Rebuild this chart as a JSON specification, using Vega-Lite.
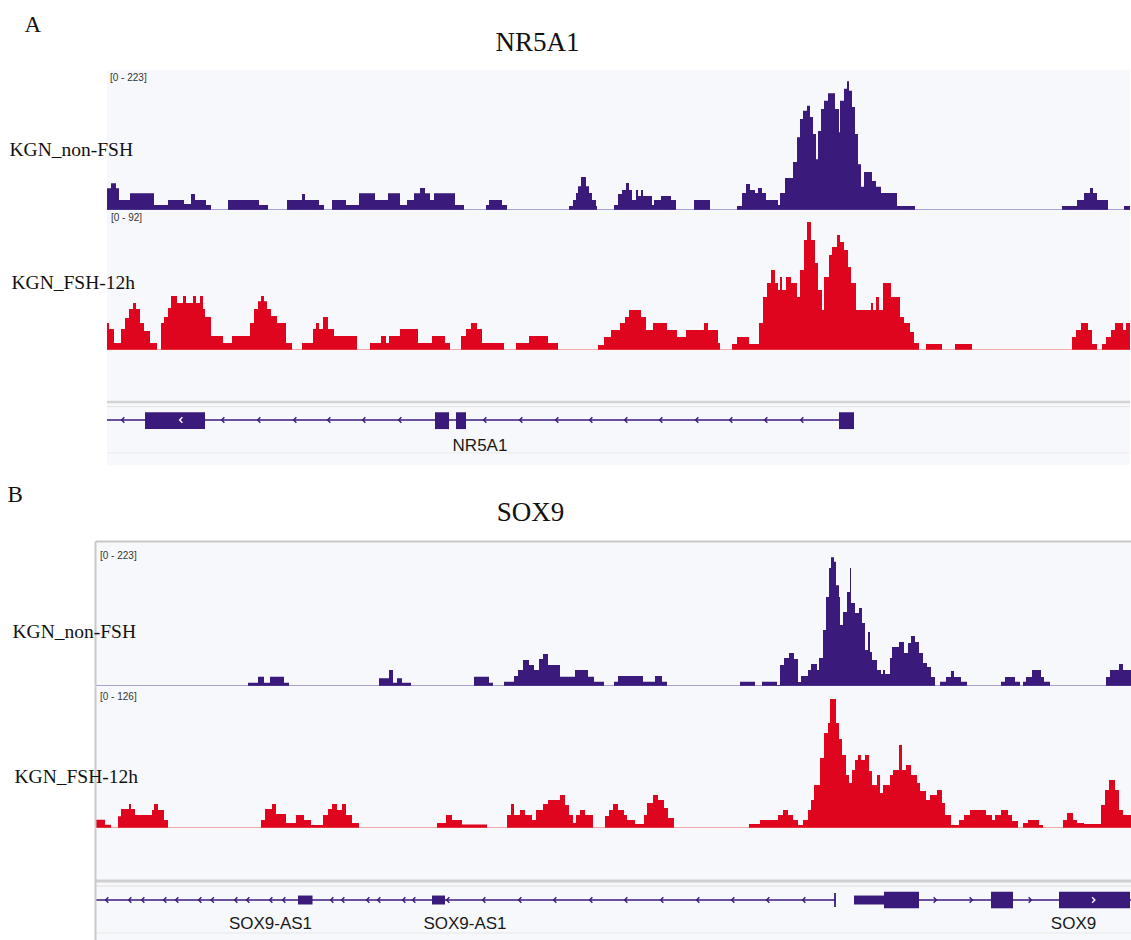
{
"$schema": "https://vega.github.io/schema/vega-lite/v6.json",
"background": "white",
"padding": {"left": 7, "top": 0, "right": 0, "bottom": 0},
"autosize": {"type": "pad"},
"spacing": 0,
"bounds": "flush",
"datasets": {
"A1": [{"pos":12,"v":34.6},{"pos":16,"v":42.5},{"pos":21,"v":34.6},{"pos":24,"v":16},{"pos":35,"v":26.6},{"pos":59,"v":8},{"pos":73,"v":16},{"pos":89,"v":9.6},{"pos":96,"v":25.5},{"pos":100,"v":16},{"pos":111,"v":8},{"pos":116,"v":0},{"pos":133,"v":16},{"pos":164,"v":8},{"pos":173,"v":0},{"pos":192,"v":16},{"pos":207,"v":25.5},{"pos":210,"v":16},{"pos":224,"v":8},{"pos":229,"v":0},{"pos":237,"v":16},{"pos":251,"v":8},{"pos":264,"v":26.6},{"pos":280,"v":16},{"pos":293,"v":26.6},{"pos":305,"v":8},{"pos":312,"v":16},{"pos":319,"v":26.6},{"pos":325,"v":35},{"pos":330,"v":26.6},{"pos":335,"v":16},{"pos":339,"v":26.6},{"pos":360,"v":8},{"pos":369,"v":0},{"pos":391,"v":8},{"pos":394,"v":16},{"pos":407,"v":8},{"pos":412,"v":0},{"pos":474,"v":6.4},{"pos":478,"v":16},{"pos":481,"v":27},{"pos":483,"v":38},{"pos":486,"v":52.6},{"pos":491,"v":38},{"pos":494,"v":27},{"pos":497,"v":16},{"pos":501,"v":6.4},{"pos":502,"v":0},{"pos":519,"v":8},{"pos":523,"v":25.5},{"pos":527,"v":32},{"pos":531,"v":43},{"pos":534,"v":32},{"pos":537,"v":16},{"pos":541,"v":32},{"pos":543,"v":22.3},{"pos":546,"v":32},{"pos":548,"v":22.3},{"pos":557,"v":8},{"pos":559,"v":16},{"pos":566,"v":22.3},{"pos":576,"v":16},{"pos":581,"v":0},{"pos":599,"v":16},{"pos":615,"v":0},{"pos":642,"v":6.4},{"pos":647,"v":27},{"pos":651,"v":41.4},{"pos":655,"v":32},{"pos":660,"v":27},{"pos":663,"v":35},{"pos":667,"v":27},{"pos":671,"v":16},{"pos":683,"v":8},{"pos":685,"v":27},{"pos":690,"v":51},{"pos":698,"v":76.5},{"pos":702,"v":116},{"pos":705,"v":145},{"pos":708,"v":158},{"pos":712,"v":166},{"pos":715,"v":148},{"pos":718,"v":121},{"pos":721,"v":81},{"pos":723,"v":126},{"pos":726,"v":161},{"pos":729,"v":174},{"pos":733,"v":186},{"pos":740,"v":161},{"pos":744,"v":124},{"pos":745,"v":174},{"pos":749,"v":193},{"pos":752,"v":205},{"pos":754,"v":190},{"pos":757,"v":164},{"pos":760,"v":121},{"pos":763,"v":73},{"pos":766,"v":37},{"pos":769,"v":60.5},{"pos":777,"v":46},{"pos":781,"v":37},{"pos":786,"v":27},{"pos":802,"v":6.4},{"pos":820,"v":0},{"pos":967,"v":6.4},{"pos":982,"v":16},{"pos":989,"v":27},{"pos":995,"v":35},{"pos":998,"v":27},{"pos":1002,"v":16},{"pos":1013,"v":0},{"pos":1029,"v":6.4},{"pos":1035,"v":0}],
"A2": [{"pos":12,"v":17.7},{"pos":14,"v":13.8},{"pos":19,"v":4.6},{"pos":26,"v":13.8},{"pos":30,"v":21},{"pos":34,"v":27},{"pos":38,"v":30.9},{"pos":41,"v":27},{"pos":45,"v":17.7},{"pos":49,"v":12.5},{"pos":55,"v":4.6},{"pos":62,"v":0},{"pos":66,"v":17.7},{"pos":69,"v":21.7},{"pos":73,"v":27.6},{"pos":76,"v":35.5},{"pos":82,"v":30.9},{"pos":88,"v":35.5},{"pos":91,"v":30.9},{"pos":98,"v":35.5},{"pos":101,"v":30.9},{"pos":105,"v":35.5},{"pos":108,"v":27},{"pos":110,"v":21.7},{"pos":116,"v":9.2},{"pos":128,"v":4.6},{"pos":137,"v":9.2},{"pos":155,"v":17.7},{"pos":159,"v":27},{"pos":163,"v":32},{"pos":166,"v":35.5},{"pos":169,"v":32},{"pos":172,"v":27},{"pos":176,"v":22.3},{"pos":182,"v":17.7},{"pos":191,"v":4.6},{"pos":197,"v":0},{"pos":207,"v":4.6},{"pos":218,"v":13.8},{"pos":221,"v":17.7},{"pos":224,"v":13.8},{"pos":228,"v":21.7},{"pos":233,"v":13.8},{"pos":239,"v":9.2},{"pos":262,"v":0},{"pos":275,"v":4.6},{"pos":286,"v":9.2},{"pos":291,"v":4.6},{"pos":294,"v":9.2},{"pos":305,"v":13.8},{"pos":323,"v":4.6},{"pos":337,"v":9.2},{"pos":350,"v":4.6},{"pos":355,"v":0},{"pos":366,"v":9.2},{"pos":371,"v":13.8},{"pos":376,"v":17.7},{"pos":382,"v":13.8},{"pos":387,"v":4.6},{"pos":409,"v":0},{"pos":421,"v":4.6},{"pos":434,"v":9.2},{"pos":453,"v":4.6},{"pos":463,"v":0},{"pos":503,"v":3.3},{"pos":509,"v":8.5},{"pos":516,"v":13.1},{"pos":525,"v":17.7},{"pos":530,"v":21.7},{"pos":534,"v":26.3},{"pos":546,"v":21.7},{"pos":551,"v":13.1},{"pos":558,"v":17.7},{"pos":572,"v":13.1},{"pos":582,"v":8.5},{"pos":591,"v":13.1},{"pos":609,"v":17.7},{"pos":613,"v":13.1},{"pos":623,"v":4.6},{"pos":625,"v":0},{"pos":637,"v":3.9},{"pos":642,"v":8.5},{"pos":654,"v":3.9},{"pos":664,"v":17.7},{"pos":668,"v":34.8},{"pos":672,"v":44},{"pos":676,"v":52.6},{"pos":680,"v":44},{"pos":683,"v":39.4},{"pos":685,"v":48},{"pos":687,"v":39.4},{"pos":691,"v":48},{"pos":696,"v":44},{"pos":702,"v":34.8},{"pos":705,"v":52.6},{"pos":709,"v":72.3},{"pos":712,"v":84.1},{"pos":716,"v":72.3},{"pos":720,"v":57.2},{"pos":723,"v":39.4},{"pos":727,"v":26.3},{"pos":729,"v":48},{"pos":734,"v":62.4},{"pos":737,"v":67.7},{"pos":742,"v":75.6},{"pos":745,"v":71},{"pos":749,"v":65.7},{"pos":753,"v":54.5},{"pos":756,"v":44},{"pos":761,"v":26.3},{"pos":776,"v":30.9},{"pos":778,"v":26.3},{"pos":781,"v":34.8},{"pos":784,"v":26.3},{"pos":788,"v":44},{"pos":796,"v":34.8},{"pos":805,"v":21.7},{"pos":809,"v":17.7},{"pos":815,"v":11.8},{"pos":819,"v":4.6},{"pos":824,"v":0},{"pos":831,"v":3.9},{"pos":847,"v":0},{"pos":860,"v":3.9},{"pos":877,"v":0},{"pos":977,"v":8.5},{"pos":981,"v":13.1},{"pos":986,"v":17.7},{"pos":993,"v":13.1},{"pos":997,"v":3.9},{"pos":1002,"v":0},{"pos":1007,"v":3.9},{"pos":1011,"v":8.5},{"pos":1016,"v":13.1},{"pos":1020,"v":17.7},{"pos":1028,"v":13.1},{"pos":1031,"v":17.7},{"pos":1035,"v":17.7}],
"B1": [{"pos":0,"v":0},{"pos":153,"v":5.1},{"pos":163,"v":14.3},{"pos":169,"v":5.1},{"pos":175,"v":14.3},{"pos":189,"v":5.1},{"pos":194,"v":0},{"pos":284,"v":11.8},{"pos":294,"v":24.6},{"pos":298,"v":5.1},{"pos":302,"v":11.8},{"pos":307,"v":5.1},{"pos":316,"v":0},{"pos":379,"v":14.3},{"pos":394,"v":5.1},{"pos":398,"v":0},{"pos":409,"v":6.6},{"pos":419,"v":15.4},{"pos":423,"v":24.6},{"pos":428,"v":40},{"pos":434,"v":32.3},{"pos":439,"v":24.6},{"pos":444,"v":41.5},{"pos":448,"v":49.2},{"pos":453,"v":32.3},{"pos":465,"v":14.3},{"pos":480,"v":24.6},{"pos":493,"v":14.3},{"pos":499,"v":6.6},{"pos":509,"v":0},{"pos":519,"v":6.6},{"pos":523,"v":15.4},{"pos":548,"v":6.6},{"pos":560,"v":15.4},{"pos":567,"v":6.6},{"pos":572,"v":0},{"pos":645,"v":6.6},{"pos":660,"v":0},{"pos":667,"v":6.6},{"pos":682,"v":1.5},{"pos":685,"v":32.3},{"pos":689,"v":43},{"pos":694,"v":50.8},{"pos":699,"v":41.5},{"pos":703,"v":6.2},{"pos":706,"v":15.4},{"pos":713,"v":24.6},{"pos":716,"v":33.8},{"pos":722,"v":24.6},{"pos":724,"v":43},{"pos":728,"v":86},{"pos":731,"v":137},{"pos":734,"v":181.5},{"pos":736,"v":198},{"pos":739,"v":191},{"pos":741,"v":155},{"pos":744,"v":137},{"pos":745,"v":93.8},{"pos":748,"v":113.8},{"pos":752,"v":144.6},{"pos":755,"v":181.5},{"pos":756,"v":127.7},{"pos":760,"v":112.3},{"pos":764,"v":120},{"pos":767,"v":96.9},{"pos":770,"v":55.4},{"pos":773,"v":83},{"pos":775,"v":52.3},{"pos":777,"v":40},{"pos":782,"v":24.6},{"pos":786,"v":18.5},{"pos":788,"v":24.6},{"pos":790,"v":18.5},{"pos":795,"v":43},{"pos":797,"v":60},{"pos":804,"v":67.7},{"pos":809,"v":50.8},{"pos":813,"v":66.1},{"pos":816,"v":76.9},{"pos":820,"v":67.7},{"pos":824,"v":50.8},{"pos":828,"v":35.4},{"pos":832,"v":29.2},{"pos":836,"v":13.8},{"pos":840,"v":0},{"pos":845,"v":6.6},{"pos":851,"v":13.8},{"pos":856,"v":23},{"pos":859,"v":13.8},{"pos":866,"v":6.6},{"pos":872,"v":0},{"pos":906,"v":6.6},{"pos":910,"v":13.8},{"pos":920,"v":6.6},{"pos":925,"v":0},{"pos":928,"v":6.6},{"pos":931,"v":13.8},{"pos":937,"v":24.6},{"pos":946,"v":13.8},{"pos":949,"v":6.6},{"pos":955,"v":0},{"pos":1011,"v":13.8},{"pos":1015,"v":24.6},{"pos":1024,"v":33.8},{"pos":1028,"v":24.6},{"pos":1036,"v":24.6}],
"B2": [{"pos":0,"v":7.4},{"pos":10,"v":2.9},{"pos":16,"v":0},{"pos":23,"v":10.4},{"pos":26,"v":16.9},{"pos":34,"v":21.3},{"pos":36,"v":16.9},{"pos":40,"v":11.5},{"pos":57,"v":16},{"pos":59,"v":21.3},{"pos":63,"v":16},{"pos":69,"v":7.1},{"pos":73,"v":0},{"pos":166,"v":7.1},{"pos":170,"v":16.9},{"pos":177,"v":21.3},{"pos":181,"v":12.4},{"pos":191,"v":4.4},{"pos":201,"v":11.5},{"pos":209,"v":7.1},{"pos":216,"v":2.7},{"pos":228,"v":11.5},{"pos":233,"v":16.9},{"pos":237,"v":21.3},{"pos":242,"v":16},{"pos":247,"v":21.3},{"pos":251,"v":11.5},{"pos":257,"v":4.4},{"pos":264,"v":0},{"pos":342,"v":4.4},{"pos":351,"v":11.5},{"pos":357,"v":7.1},{"pos":367,"v":3.1},{"pos":392,"v":0},{"pos":412,"v":11.5},{"pos":416,"v":21.3},{"pos":419,"v":11.5},{"pos":425,"v":16},{"pos":430,"v":11.5},{"pos":437,"v":7.1},{"pos":441,"v":16},{"pos":448,"v":21.3},{"pos":453,"v":24.8},{"pos":465,"v":29.3},{"pos":470,"v":20.4},{"pos":474,"v":11.5},{"pos":478,"v":4.4},{"pos":481,"v":11.5},{"pos":485,"v":16},{"pos":490,"v":11.5},{"pos":498,"v":0},{"pos":510,"v":10.6},{"pos":514,"v":16},{"pos":518,"v":21.3},{"pos":523,"v":16},{"pos":529,"v":11.5},{"pos":532,"v":7.1},{"pos":540,"v":3.5},{"pos":549,"v":11.5},{"pos":552,"v":22.2},{"pos":558,"v":29.3},{"pos":563,"v":24.8},{"pos":569,"v":17.7},{"pos":573,"v":8.9},{"pos":579,"v":0},{"pos":654,"v":3.5},{"pos":665,"v":7.1},{"pos":683,"v":11.5},{"pos":688,"v":16},{"pos":693,"v":11.5},{"pos":698,"v":7.1},{"pos":703,"v":2.7},{"pos":708,"v":7.1},{"pos":713,"v":16},{"pos":716,"v":24.8},{"pos":719,"v":38.1},{"pos":725,"v":62.1},{"pos":729,"v":84.3},{"pos":733,"v":93.1},{"pos":735,"v":114.4},{"pos":741,"v":93.1},{"pos":744,"v":78.9},{"pos":747,"v":64.8},{"pos":751,"v":47},{"pos":754,"v":39.9},{"pos":757,"v":51.4},{"pos":760,"v":60.3},{"pos":763,"v":64.8},{"pos":766,"v":60.3},{"pos":770,"v":64.8},{"pos":774,"v":50.6},{"pos":777,"v":38.1},{"pos":782,"v":47},{"pos":785,"v":31},{"pos":788,"v":38.1},{"pos":795,"v":47},{"pos":798,"v":51.4},{"pos":804,"v":73.6},{"pos":807,"v":51.4},{"pos":811,"v":55.9},{"pos":816,"v":47},{"pos":822,"v":39.9},{"pos":825,"v":32.8},{"pos":831,"v":24.8},{"pos":835,"v":29.3},{"pos":842,"v":33.7},{"pos":847,"v":22.2},{"pos":850,"v":11.5},{"pos":856,"v":2.7},{"pos":864,"v":7.1},{"pos":869,"v":11.5},{"pos":875,"v":16},{"pos":891,"v":11.5},{"pos":897,"v":7.1},{"pos":900,"v":11.5},{"pos":906,"v":16},{"pos":913,"v":11.5},{"pos":917,"v":6.2},{"pos":923,"v":0},{"pos":928,"v":4.4},{"pos":933,"v":7.1},{"pos":944,"v":2.7},{"pos":948,"v":0},{"pos":968,"v":7.1},{"pos":972,"v":13.3},{"pos":978,"v":7.1},{"pos":982,"v":4.4},{"pos":989,"v":3.5},{"pos":1006,"v":20.4},{"pos":1010,"v":33.7},{"pos":1014,"v":42.6},{"pos":1020,"v":33.7},{"pos":1024,"v":16},{"pos":1028,"v":11.5},{"pos":1036,"v":11.5}],
"geneA": [{"kind":"intron","start":12,"end":744},{"kind":"exon","start":50,"end":110},{"kind":"exon","start":340,"end":354},{"kind":"exon","start":361,"end":371},{"kind":"exon","start":744,"end":759},{"kind":"left","pos":28},{"kind":"left","pos":128},{"kind":"left","pos":164},{"kind":"left","pos":200},{"kind":"left","pos":234},{"kind":"left","pos":269},{"kind":"left","pos":305},{"kind":"left","pos":390},{"kind":"left","pos":426},{"kind":"left","pos":462},{"kind":"left","pos":496},{"kind":"left","pos":531},{"kind":"left","pos":566},{"kind":"left","pos":602},{"kind":"left","pos":636},{"kind":"left","pos":671},{"kind":"left","pos":707},{"kind":"innerLeft","pos":86},{"kind":"label","pos":385,"name":"NR5A1"}],
"geneB": [{"kind":"intron","start":0,"end":740},{"kind":"intron","start":759,"end":1036},{"kind":"tick","pos":740},{"kind":"utr","start":203,"end":217.5},{"kind":"utr","start":337,"end":350},{"kind":"utr","start":759,"end":789},{"kind":"exon","start":789,"end":824},{"kind":"exon","start":896,"end":918},{"kind":"exon","start":964,"end":1035},{"kind":"left","pos":12},{"kind":"left","pos":35},{"kind":"left","pos":48},{"kind":"left","pos":70},{"kind":"left","pos":82},{"kind":"left","pos":105},{"kind":"left","pos":117.5},{"kind":"left","pos":141},{"kind":"left","pos":153},{"kind":"left","pos":176},{"kind":"left","pos":189},{"kind":"left","pos":237},{"kind":"left","pos":248},{"kind":"left","pos":273},{"kind":"left","pos":284},{"kind":"left","pos":309},{"kind":"left","pos":319},{"kind":"left","pos":353},{"kind":"left","pos":389},{"kind":"left","pos":425},{"kind":"left","pos":460},{"kind":"left","pos":496},{"kind":"left","pos":531},{"kind":"left","pos":567},{"kind":"left","pos":603},{"kind":"left","pos":638},{"kind":"left","pos":673},{"kind":"left","pos":709},{"kind":"right","pos":840},{"kind":"right","pos":876},{"kind":"right","pos":935},{"kind":"innerRight","pos":998.5},{"kind":"label","pos":175.5,"name":"SOX9-AS1"},{"kind":"label","pos":370,"name":"SOX9-AS1"},{"kind":"label","pos":978.5,"name":"SOX9"}]
},
"vconcat": [
{
 "width": 1036, "height": 70,
 "data": {"values": [{}]},
 "mark": {"type": "text"},
 "encoding": {
  "text": {"value": ""},
  "x": {"datum": 0, "type": "quantitative", "scale": {"domain": [0, 1036], "nice": false, "zero": false},
        "axis": {"orient": "bottom", "title": "NR5A1", "titleX": 442, "titleY": -20, "titleAlign": "center", "titleBaseline": "alphabetic", "titleAngle": 0, "titleFontSize": 27, "zindex": 2}},
  "y": {"datum": 0, "type": "quantitative", "scale": {"domain": [0, 1], "nice": false},
        "axis": {"title": "A", "titleX": -71, "titleY": 31, "titleAngle": 0, "titleAlign": "left", "titleBaseline": "alphabetic", "titleFontSize": 23, "zindex": 2}}
 }
},
{
 "width": 1036, "height": 140,
 "layer": [
  {"data": {"values": [{}]}, "mark": {"type": "rect", "color": "#f7f8fc"},
   "encoding": {"x": {"datum": 12, "type": "quantitative", "scale": {"domain": [0, 1036], "nice": false, "zero": false}, "axis": {"title": null, "zindex": 2}}, "x2": {"datum": 1035},
                "y": {"datum": 0, "type": "quantitative", "scale": {"domain": [0, 223], "nice": false},
                      "axis": {"title": "KGN_non-FSH", "titleX": -86, "titleY": 85, "titleAngle": 0, "titleAlign": "left", "titleBaseline": "alphabetic", "titleFontSize": 19.5, "zindex": 2}},
                "y2": {"datum": 223}}},
  {"data": {"name": "A1"}, "mark": {"type": "area", "interpolate": "step-after", "color": "#3a1a7b", "opacity": 1},
   "encoding": {"x": {"field": "pos", "type": "quantitative", "scale": {"domain": [0, 1036], "nice": false, "zero": false}},
                "y": {"field": "v", "type": "quantitative", "scale": {"domain": [0, 223], "nice": false}}}},
  {"data": {"values": [{}]}, "mark": {"type": "rule", "color": "#5d4aa0", "strokeWidth": 1.2},
   "encoding": {"x": {"datum": 12, "type": "quantitative", "scale": {"domain": [0, 1036], "nice": false, "zero": false}}, "x2": {"datum": 1035},
                "y": {"datum": 0, "type": "quantitative", "scale": {"domain": [0, 223], "nice": false}}}},
  {"data": {"values": [{}]}, "mark": {"type": "text", "align": "left", "baseline": "middle", "dy": 8, "font": "Liberation Sans", "fontSize": 10, "color": "#333333"},
   "encoding": {"x": {"datum": 15, "type": "quantitative", "scale": {"domain": [0, 1036], "nice": false, "zero": false}},
                "y": {"datum": 223, "type": "quantitative", "scale": {"domain": [0, 223], "nice": false}},
                "text": {"value": "[0 - 223]"}}}
 ]
},
{
 "width": 1036, "height": 140,
 "layer": [
  {"data": {"values": [{}]}, "mark": {"type": "rect", "color": "#f7f8fc"},
   "encoding": {"x": {"datum": 12, "type": "quantitative", "scale": {"domain": [0, 1036], "nice": false, "zero": false}, "axis": {"title": null, "zindex": 2}}, "x2": {"datum": 1035},
                "y": {"datum": 0, "type": "quantitative", "scale": {"domain": [0, 92], "nice": false},
                      "axis": {"title": "KGN_FSH-12h", "titleX": -84, "titleY": 78, "titleAngle": 0, "titleAlign": "left", "titleBaseline": "alphabetic", "titleFontSize": 19.5, "zindex": 2}},
                "y2": {"datum": 92}}},
  {"data": {"name": "A2"}, "mark": {"type": "area", "interpolate": "step-after", "color": "#e0051f", "opacity": 1},
   "encoding": {"x": {"field": "pos", "type": "quantitative", "scale": {"domain": [0, 1036], "nice": false, "zero": false}},
                "y": {"field": "v", "type": "quantitative", "scale": {"domain": [0, 92], "nice": false}}}},
  {"data": {"values": [{}]}, "mark": {"type": "rule", "color": "#ef5a5a", "strokeWidth": 1.2},
   "encoding": {"x": {"datum": 12, "type": "quantitative", "scale": {"domain": [0, 1036], "nice": false, "zero": false}}, "x2": {"datum": 1035},
                "y": {"datum": 0, "type": "quantitative", "scale": {"domain": [0, 92], "nice": false}}}},
  {"data": {"values": [{}]}, "mark": {"type": "text", "align": "left", "baseline": "middle", "dy": 8, "font": "Liberation Sans", "fontSize": 10, "color": "#333333"},
   "encoding": {"x": {"datum": 16, "type": "quantitative", "scale": {"domain": [0, 1036], "nice": false, "zero": false}},
                "y": {"datum": 92, "type": "quantitative", "scale": {"domain": [0, 92], "nice": false}},
                "text": {"value": "[0 - 92]"}}}
 ]
},
{
 "width": 1036, "height": 191,
 "layer": [
  {"data": {"values": [{}]}, "mark": {"type": "rect", "color": "#f7f8fc"},
   "encoding": {"x": {"datum": 12, "type": "quantitative", "scale": {"domain": [0, 1036], "nice": false, "zero": false},
                      "axis": {"orient": "bottom", "title": "SOX9", "titleX": 435, "titleY": -21, "titleAlign": "center", "titleBaseline": "alphabetic", "titleAngle": 0, "titleFontSize": 27, "zindex": 2}},
                "x2": {"datum": 1035},
                "y": {"datum": 0.398, "type": "quantitative", "scale": {"domain": [0, 1], "nice": false},
                      "axis": {"title": "B", "titleX": -88, "titleY": 151, "titleAngle": 0, "titleAlign": "left", "titleBaseline": "alphabetic", "titleFontSize": 23, "zindex": 2}},
                "y2": {"datum": 1}}},
  {"data": {"values": [{}]}, "mark": {"type": "rule", "color": "#d3d3d3", "strokeWidth": 2.5},
   "encoding": {"x": {"datum": 12, "type": "quantitative", "scale": {"domain": [0, 1036], "nice": false, "zero": false}}, "x2": {"datum": 1035},
                "y": {"datum": 0.728, "type": "quantitative", "scale": {"domain": [0, 1], "nice": false}}}},
  {"data": {"values": [{}]}, "mark": {"type": "rule", "color": "#e3e3e3", "strokeWidth": 1},
   "encoding": {"x": {"datum": 12, "type": "quantitative", "scale": {"domain": [0, 1036], "nice": false, "zero": false}}, "x2": {"datum": 1035},
                "y": {"datum": 0.704, "type": "quantitative", "scale": {"domain": [0, 1], "nice": false}}}},
  {"data": {"values": [{}]}, "mark": {"type": "rule", "color": "#ebebeb", "strokeWidth": 1},
   "encoding": {"x": {"datum": 12, "type": "quantitative", "scale": {"domain": [0, 1036], "nice": false, "zero": false}}, "x2": {"datum": 1035},
                "y": {"datum": 0.461, "type": "quantitative", "scale": {"domain": [0, 1], "nice": false}}}},
  {"data": {"name": "geneA"}, "transform": [{"filter": "datum.kind === 'intron'"}], "mark": {"type": "rule", "color": "#3a1a7b", "strokeWidth": 1.5},
   "encoding": {"x": {"field": "start", "type": "quantitative", "scale": {"domain": [0, 1036], "nice": false, "zero": false}}, "x2": {"field": "end"},
                "y": {"datum": 0.634, "type": "quantitative", "scale": {"domain": [0, 1], "nice": false}}}},
  {"data": {"name": "geneA"}, "transform": [{"filter": "datum.kind === 'exon'"}], "mark": {"type": "rect", "color": "#3a1a7b"},
   "encoding": {"x": {"field": "start", "type": "quantitative", "scale": {"domain": [0, 1036], "nice": false, "zero": false}}, "x2": {"field": "end"},
                "y": {"datum": 0.586, "type": "quantitative", "scale": {"domain": [0, 1], "nice": false}}, "y2": {"datum": 0.674}}},
  {"data": {"name": "geneA"}, "transform": [{"filter": "datum.kind === 'left'"}], "mark": {"type": "point", "shape": "M0.5,-1L-0.5,0L0.5,1", "filled": false, "color": "#3a1a7b", "strokeWidth": 1.4, "size": 30, "opacity": 1},
   "encoding": {"x": {"field": "pos", "type": "quantitative", "scale": {"domain": [0, 1036], "nice": false, "zero": false}},
                "y": {"datum": 0.634, "type": "quantitative", "scale": {"domain": [0, 1], "nice": false}}}},
  {"data": {"name": "geneA"}, "transform": [{"filter": "datum.kind === 'innerLeft'"}], "mark": {"type": "point", "shape": "M0.5,-1L-0.5,0L0.5,1", "filled": false, "color": "#ffffff", "strokeWidth": 1.4, "size": 30, "opacity": 1},
   "encoding": {"x": {"field": "pos", "type": "quantitative", "scale": {"domain": [0, 1036], "nice": false, "zero": false}},
                "y": {"datum": 0.634, "type": "quantitative", "scale": {"domain": [0, 1], "nice": false}}}},
  {"data": {"name": "geneA"}, "transform": [{"filter": "datum.kind === 'label'"}], "mark": {"type": "text", "align": "center", "baseline": "alphabetic", "font": "Liberation Sans", "fontSize": 17, "color": "#1a1a1a"},
   "encoding": {"x": {"field": "pos", "type": "quantitative", "scale": {"domain": [0, 1036], "nice": false, "zero": false}},
                "y": {"datum": 0.473, "type": "quantitative", "scale": {"domain": [0, 1], "nice": false}},
                "text": {"field": "name"}}}
 ]
},
{
 "width": 1036, "height": 145,
 "layer": [
  {"data": {"values": [{}]}, "mark": {"type": "rect", "color": "#f7f8fc"},
   "encoding": {"x": {"datum": 0, "type": "quantitative", "scale": {"domain": [0, 1036], "nice": false, "zero": false},
                      "axis": {"orient": "top", "title": null, "domain": true, "domainColor": "#c8c8c8", "domainWidth": 2, "zindex": 2}},
                "x2": {"datum": 1036},
                "y": {"datum": 0, "type": "quantitative", "scale": {"domain": [0, 223], "nice": false},
                      "axis": {"title": "KGN_non-FSH", "titleX": -83, "titleY": 96, "titleAngle": 0, "titleAlign": "left", "titleBaseline": "alphabetic", "titleFontSize": 19.5, "domain": true, "domainColor": "#c8c8c8", "domainWidth": 2, "zindex": 2}},
                "y2": {"datum": 223}}},
  {"data": {"name": "B1"}, "mark": {"type": "area", "interpolate": "step-after", "color": "#3a1a7b", "opacity": 1},
   "encoding": {"x": {"field": "pos", "type": "quantitative", "scale": {"domain": [0, 1036], "nice": false, "zero": false}},
                "y": {"field": "v", "type": "quantitative", "scale": {"domain": [0, 223], "nice": false}}}},
  {"data": {"values": [{}]}, "mark": {"type": "rule", "color": "#5d4aa0", "strokeWidth": 1.2},
   "encoding": {"x": {"datum": 0, "type": "quantitative", "scale": {"domain": [0, 1036], "nice": false, "zero": false}}, "x2": {"datum": 1036},
                "y": {"datum": 0, "type": "quantitative", "scale": {"domain": [0, 223], "nice": false}}}},
  {"data": {"values": [{}]}, "mark": {"type": "text", "align": "left", "baseline": "middle", "dy": 15, "font": "Liberation Sans", "fontSize": 10, "color": "#333333"},
   "encoding": {"x": {"datum": 5, "type": "quantitative", "scale": {"domain": [0, 1036], "nice": false, "zero": false}},
                "y": {"datum": 223, "type": "quantitative", "scale": {"domain": [0, 223], "nice": false}},
                "text": {"value": "[0 - 223]"}}}
 ]
},
{
 "width": 1036, "height": 142,
 "layer": [
  {"data": {"values": [{}]}, "mark": {"type": "rect", "color": "#f7f8fc"},
   "encoding": {"x": {"datum": 0, "type": "quantitative", "scale": {"domain": [0, 1036], "nice": false, "zero": false}, "axis": {"title": null, "zindex": 2}},
                "x2": {"datum": 1036},
                "y": {"datum": 0, "type": "quantitative", "scale": {"domain": [0, 126], "nice": false},
                      "axis": {"title": "KGN_FSH-12h", "titleX": -81, "titleY": 96, "titleAngle": 0, "titleAlign": "left", "titleBaseline": "alphabetic", "titleFontSize": 19.5, "domain": true, "domainColor": "#c8c8c8", "domainWidth": 2, "zindex": 2}},
                "y2": {"datum": 126}}},
  {"data": {"name": "B2"}, "mark": {"type": "area", "interpolate": "step-after", "color": "#e0051f", "opacity": 1},
   "encoding": {"x": {"field": "pos", "type": "quantitative", "scale": {"domain": [0, 1036], "nice": false, "zero": false}},
                "y": {"field": "v", "type": "quantitative", "scale": {"domain": [0, 126], "nice": false}}}},
  {"data": {"values": [{}]}, "mark": {"type": "rule", "color": "#ef5a5a", "strokeWidth": 1.2},
   "encoding": {"x": {"datum": 0, "type": "quantitative", "scale": {"domain": [0, 1036], "nice": false, "zero": false}}, "x2": {"datum": 1036},
                "y": {"datum": 0, "type": "quantitative", "scale": {"domain": [0, 126], "nice": false}}}},
  {"data": {"values": [{}]}, "mark": {"type": "text", "align": "left", "baseline": "middle", "dy": 11, "font": "Liberation Sans", "fontSize": 10, "color": "#333333"},
   "encoding": {"x": {"datum": 5, "type": "quantitative", "scale": {"domain": [0, 1036], "nice": false, "zero": false}},
                "y": {"datum": 126, "type": "quantitative", "scale": {"domain": [0, 126], "nice": false}},
                "text": {"value": "[0 - 126]"}}}
 ]
},
{
 "width": 1036, "height": 112,
 "layer": [
  {"data": {"values": [{}]}, "mark": {"type": "rect", "color": "#f7f8fc"},
   "encoding": {"x": {"datum": 0, "type": "quantitative", "scale": {"domain": [0, 1036], "nice": false, "zero": false}, "axis": {"title": null, "zindex": 2}},
                "x2": {"datum": 1036},
                "y": {"datum": 0, "type": "quantitative", "scale": {"domain": [0, 1], "nice": false},
                      "axis": {"title": null, "domain": true, "domainColor": "#c8c8c8", "domainWidth": 2, "zindex": 2}},
                "y2": {"datum": 1}}},
  {"data": {"values": [{}]}, "mark": {"type": "rule", "color": "#cfcfcf", "strokeWidth": 3},
   "encoding": {"x": {"datum": 0, "type": "quantitative", "scale": {"domain": [0, 1036], "nice": false, "zero": false}}, "x2": {"datum": 1036},
                "y": {"datum": 0.527, "type": "quantitative", "scale": {"domain": [0, 1], "nice": false}}}},
  {"data": {"values": [{}]}, "mark": {"type": "rule", "color": "#e0e0e0", "strokeWidth": 1},
   "encoding": {"x": {"datum": 0, "type": "quantitative", "scale": {"domain": [0, 1036], "nice": false, "zero": false}}, "x2": {"datum": 1036},
                "y": {"datum": 0.482, "type": "quantitative", "scale": {"domain": [0, 1], "nice": false}}}},
  {"data": {"values": [{}]}, "mark": {"type": "rule", "color": "#e8e8e8", "strokeWidth": 1},
   "encoding": {"x": {"datum": 0, "type": "quantitative", "scale": {"domain": [0, 1036], "nice": false, "zero": false}}, "x2": {"datum": 1036},
                "y": {"datum": 0.0625, "type": "quantitative", "scale": {"domain": [0, 1], "nice": false}}}},
  {"data": {"name": "geneB"}, "transform": [{"filter": "datum.kind === 'intron'"}], "mark": {"type": "rule", "color": "#3a1a7b", "strokeWidth": 1.5},
   "encoding": {"x": {"field": "start", "type": "quantitative", "scale": {"domain": [0, 1036], "nice": false, "zero": false}}, "x2": {"field": "end"},
                "y": {"datum": 0.357, "type": "quantitative", "scale": {"domain": [0, 1], "nice": false}}}},
  {"data": {"name": "geneB"}, "transform": [{"filter": "datum.kind === 'tick'"}], "mark": {"type": "rule", "color": "#3a1a7b", "strokeWidth": 1.8},
   "encoding": {"x": {"field": "pos", "type": "quantitative", "scale": {"domain": [0, 1036], "nice": false, "zero": false}},
                "y": {"datum": 0.295, "type": "quantitative", "scale": {"domain": [0, 1], "nice": false}}, "y2": {"datum": 0.42}}},
  {"data": {"name": "geneB"}, "transform": [{"filter": "datum.kind === 'utr'"}], "mark": {"type": "rect", "color": "#3a1a7b"},
   "encoding": {"x": {"field": "start", "type": "quantitative", "scale": {"domain": [0, 1036], "nice": false, "zero": false}}, "x2": {"field": "end"},
                "y": {"datum": 0.317, "type": "quantitative", "scale": {"domain": [0, 1], "nice": false}}, "y2": {"datum": 0.397}}},
  {"data": {"name": "geneB"}, "transform": [{"filter": "datum.kind === 'exon'"}], "mark": {"type": "rect", "color": "#3a1a7b"},
   "encoding": {"x": {"field": "start", "type": "quantitative", "scale": {"domain": [0, 1036], "nice": false, "zero": false}}, "x2": {"field": "end"},
                "y": {"datum": 0.283, "type": "quantitative", "scale": {"domain": [0, 1], "nice": false}}, "y2": {"datum": 0.431}}},
  {"data": {"name": "geneB"}, "transform": [{"filter": "datum.kind === 'left'"}], "mark": {"type": "point", "shape": "M0.5,-1L-0.5,0L0.5,1", "filled": false, "color": "#3a1a7b", "strokeWidth": 1.4, "size": 30, "opacity": 1},
   "encoding": {"x": {"field": "pos", "type": "quantitative", "scale": {"domain": [0, 1036], "nice": false, "zero": false}},
                "y": {"datum": 0.357, "type": "quantitative", "scale": {"domain": [0, 1], "nice": false}}}},
  {"data": {"name": "geneB"}, "transform": [{"filter": "datum.kind === 'right'"}], "mark": {"type": "point", "shape": "M-0.5,-1L0.5,0L-0.5,1", "filled": false, "color": "#3a1a7b", "strokeWidth": 1.4, "size": 30, "opacity": 1},
   "encoding": {"x": {"field": "pos", "type": "quantitative", "scale": {"domain": [0, 1036], "nice": false, "zero": false}},
                "y": {"datum": 0.357, "type": "quantitative", "scale": {"domain": [0, 1], "nice": false}}}},
  {"data": {"name": "geneB"}, "transform": [{"filter": "datum.kind === 'innerRight'"}], "mark": {"type": "point", "shape": "M-0.5,-1L0.5,0L-0.5,1", "filled": false, "color": "#ffffff", "strokeWidth": 1.4, "size": 30, "opacity": 1},
   "encoding": {"x": {"field": "pos", "type": "quantitative", "scale": {"domain": [0, 1036], "nice": false, "zero": false}},
                "y": {"datum": 0.357, "type": "quantitative", "scale": {"domain": [0, 1], "nice": false}}}},
  {"data": {"name": "geneB"}, "transform": [{"filter": "datum.kind === 'label'"}], "mark": {"type": "text", "align": "center", "baseline": "alphabetic", "font": "Liberation Sans", "fontSize": 17, "color": "#1a1a1a"},
   "encoding": {"x": {"field": "pos", "type": "quantitative", "scale": {"domain": [0, 1036], "nice": false, "zero": false}},
                "y": {"datum": 0.098, "type": "quantitative", "scale": {"domain": [0, 1], "nice": false}},
                "text": {"field": "name"}}}
 ]
}
],
"config": {
 "view": {"stroke": null},
 "concat": {"spacing": 0},
 "axis": {"grid": false, "labels": false, "ticks": false, "domain": false, "titleFont": "Liberation Serif", "titleFontWeight": "normal", "titleColor": "#111111", "titlePadding": 0}
}
}
